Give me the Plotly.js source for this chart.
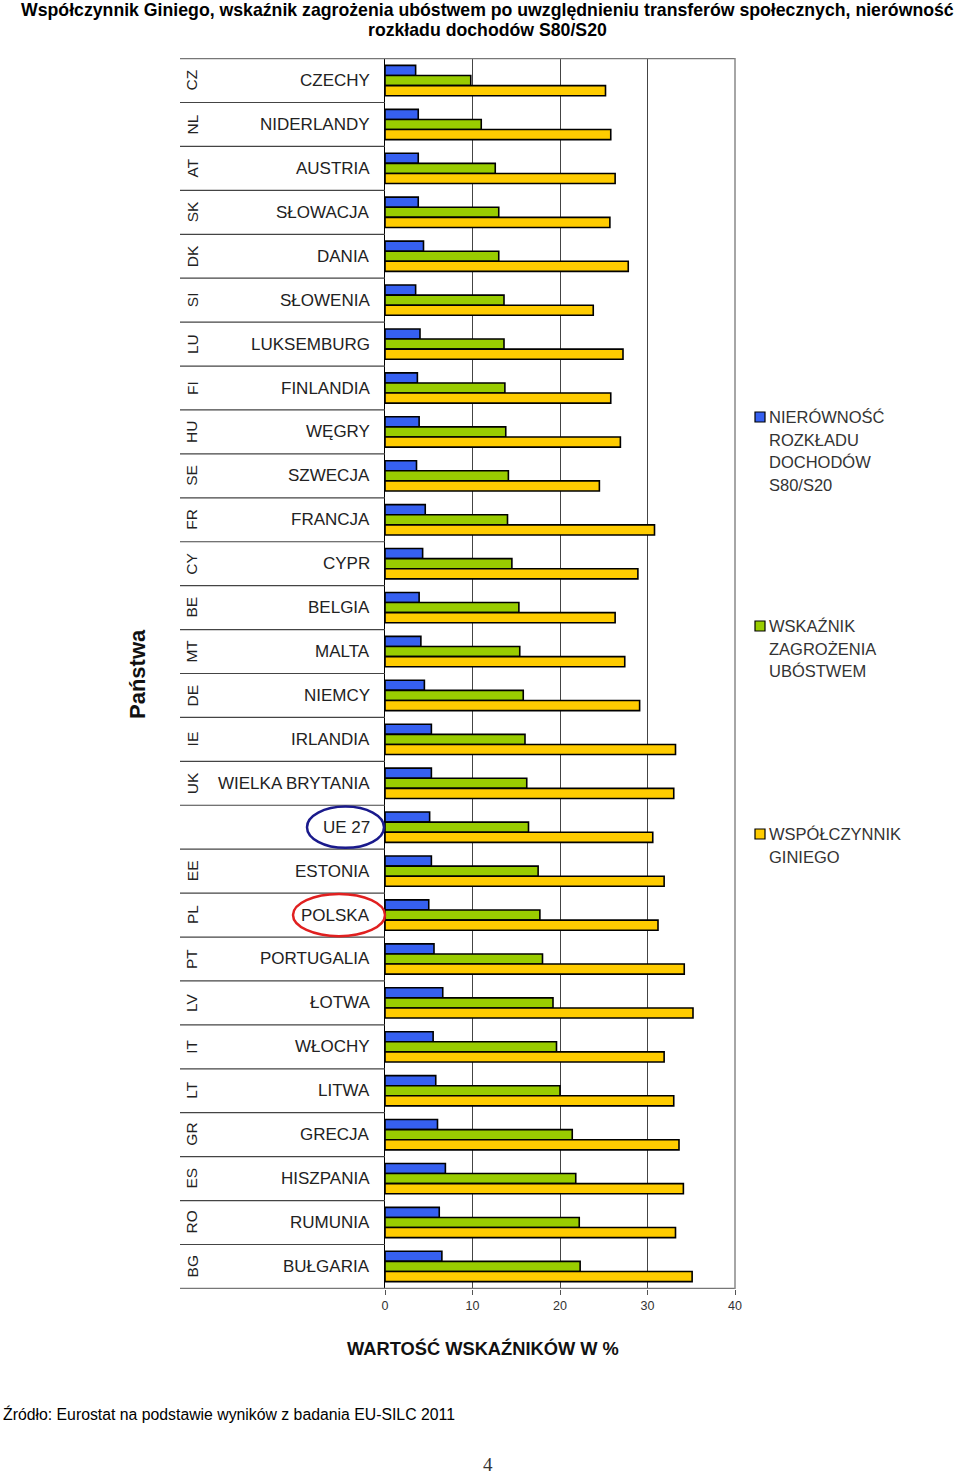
<!DOCTYPE html>
<html>
<head>
<meta charset="utf-8">
<script src="https://cdn.plot.ly/plotly-3.0.1.min.js"></script>
<style>
html,body{margin:0;padding:0;background:#fff;}
#chart{width:960px;height:1476px;}
</style>
</head>
<body>
<div id="chart"></div>
<script>
const names = ['CZECHY','NIDERLANDY','AUSTRIA','SŁOWACJA','DANIA','SŁOWENIA','LUKSEMBURG','FINLANDIA','WĘGRY','SZWECJA','FRANCJA','CYPR','BELGIA','MALTA','NIEMCY','IRLANDIA','WIELKA BRYTANIA','UE 27','ESTONIA','POLSKA','PORTUGALIA','ŁOTWA','WŁOCHY','LITWA','GRECJA','HISZPANIA','RUMUNIA','BUŁGARIA'];
const codes = ['CZ','NL','AT','SK','DK','SI','LU','FI','HU','SE','FR','CY','BE','MT','DE','IE','UK','','EE','PL','PT','LV','IT','LT','GR','ES','RO','BG'];
const s80s20 = [3.5,3.8,3.8,3.8,4.4,3.5,4.0,3.7,3.9,3.6,4.6,4.3,3.9,4.1,4.5,5.3,5.3,5.1,5.3,5.0,5.6,6.6,5.5,5.8,6.0,6.9,6.2,6.5];
const poverty = [9.8,11.0,12.6,13.0,13.0,13.6,13.6,13.7,13.8,14.1,14.0,14.5,15.3,15.4,15.8,16.0,16.2,16.4,17.5,17.7,18.0,19.2,19.6,20.0,21.4,21.8,22.2,22.3];
const gini = [25.2,25.8,26.3,25.7,27.8,23.8,27.2,25.8,26.9,24.5,30.8,28.9,26.3,27.4,29.1,33.2,33.0,30.6,31.9,31.2,34.2,35.2,31.9,33.0,33.6,34.1,33.2,35.1];
const seriesLines = [['NIERÓWNOŚĆ','ROZKŁADU','DOCHODÓW','S80/S20'],['WSKAŹNIK','ZAGROŻENIA','UBÓSTWEM'],['WSPÓŁCZYNNIK','GINIEGO']];
const titleLines = ['Współczynnik Giniego, wskaźnik zagrożenia ubóstwem po uwzględnieniu transferów społecznych, nierówność','rozkładu dochodów S80/S20'];
const colors = ['#3660F0','#99CC00','#FFCC00'];
const xTicks = [0,10,20,30,40];

// page geometry helpers (pixels -> paper)
const L = 385, R = 735, T = 58, B = 1289;
const px = p => (p - L) / (R - L);
const py = p => (B - p) / (B - T);

const series = [s80s20, poverty, gini];
const traces = series.map((vals, k) => ({
  type: 'bar', orientation: 'h',
  x: vals, y: names,
  name: seriesLines[k].join(' '),
  marker: {color: colors[k], line: {color: '#000', width: 1.6}},
  hoverinfo: 'x+y',
  showlegend: false
}));

const shapes = [];
const annotations = [];
const font = 'Liberation Sans, Arial, sans-serif';

// row separators in the label box
for (let i = 0; i <= names.length; i++) {
  const full = (i === 0 || i === names.length);
  shapes.push({type: 'line', xref: 'paper', yref: 'y', x0: px(180), x1: full ? 1 : 0,
    y0: i - 0.5, y1: i - 0.5, line: {color: full ? '#777' : '#444', width: 1.2}});
}
// right border
shapes.push({type: 'line', xref: 'paper', yref: 'paper', x0: 1, x1: 1, y0: 0, y1: 1, line: {color: '#888', width: 1.5}});

names.forEach((n, i) => {
  annotations.push({xref: 'paper', yref: 'y', x: px(372), y: i, text: n, showarrow: false,
    xanchor: 'right', yanchor: 'middle', font: {family: font, size: 17, color: '#222'}});
  if (codes[i]) annotations.push({xref: 'paper', yref: 'y', x: px(192), y: i, text: codes[i], showarrow: false,
    textangle: -90, xanchor: 'center', yanchor: 'middle', font: {family: font, size: 15.5, color: '#222'}});
});

// highlight ellipses
shapes.push({type: 'circle', xref: 'paper', yref: 'y', x0: px(307), x1: px(384), y0: 16.53, y1: 17.47,
  line: {color: '#1a1a8c', width: 2.5}});
shapes.push({type: 'circle', xref: 'paper', yref: 'y', x0: px(293), x1: px(385), y0: 18.52, y1: 19.48,
  line: {color: '#e02020', width: 2.5}});

// legend (manual)
const legY = [417, 626, 834];
const legStep = 22.6;
legY.forEach((yy, k) => {
  shapes.push({type: 'rect', xref: 'paper', yref: 'paper', x0: px(755), x1: px(765), y0: py(yy - 5), y1: py(yy + 5),
    fillcolor: colors[k], line: {color: '#000', width: 1.2}});
  seriesLines[k].forEach((line, j) => {
    annotations.push({xref: 'paper', yref: 'paper', x: px(767), y: py(yy + j * legStep), text: line, showarrow: false,
      xanchor: 'left', yanchor: 'middle', align: 'left', font: {family: font, size: 16.5, color: '#333'}});
  });
});

// title
titleLines.forEach((t, j) => {
  annotations.push({xref: 'paper', yref: 'paper', x: px(487), y: py(10 + j * 20), text: '<b>' + t + '</b>',
    showarrow: false, xanchor: 'center', yanchor: 'middle', font: {family: font, size: 17.7, color: '#000'}});
});

// axis titles and notes
annotations.push({xref: 'paper', yref: 'paper', x: px(137), y: py(674), text: '<b>Państwa</b>', textangle: -90,
  showarrow: false, xanchor: 'center', yanchor: 'middle', font: {family: font, size: 22, color: '#111'}});
annotations.push({xref: 'paper', yref: 'paper', x: px(483), y: py(1348), text: '<b>WARTOŚĆ WSKAŹNIKÓW W %</b>',
  showarrow: false, xanchor: 'center', yanchor: 'middle', font: {family: font, size: 18.3, color: '#111'}});
annotations.push({xref: 'paper', yref: 'paper', x: px(1), y: py(1414), text: 'Źródło: Eurostat na podstawie wyników z badania EU-SILC 2011',
  showarrow: false, xanchor: 'left', yanchor: 'middle', font: {family: font, size: 15.8, color: '#000'}});
annotations.push({xref: 'paper', yref: 'paper', x: px(488), y: py(1464), text: '4',
  showarrow: false, xanchor: 'center', yanchor: 'middle', font: {family: 'Liberation Serif, Times New Roman, serif', size: 19, color: '#333'}});

const layout = {
  width: 960, height: 1476,
  margin: {l: L, r: 960 - R, t: T, b: 1476 - B, pad: 0},
  paper_bgcolor: '#fff', plot_bgcolor: '#fff',
  barmode: 'group', bargap: 0.31, bargroupgap: 0,
  showlegend: false,
  xaxis: {range: [0, 40], tickvals: xTicks, ticktext: xTicks.map(String), showgrid: true, gridcolor: '#444', gridwidth: 1,
    zeroline: false, showline: false, ticks: 'outside', ticklen: 5, tickcolor: '#555',
    tickfont: {family: font, size: 12.5, color: '#333'}, fixedrange: true},
  yaxis: {type: 'category', autorange: 'reversed', showticklabels: false, showgrid: false, zeroline: false,
    showline: true, linecolor: '#000', linewidth: 1.5, ticks: '', fixedrange: true},
  shapes: shapes,
  annotations: annotations
};

Plotly.newPlot('chart', traces, layout, {displayModeBar: false, staticPlot: true});
</script>
</body>
</html>
